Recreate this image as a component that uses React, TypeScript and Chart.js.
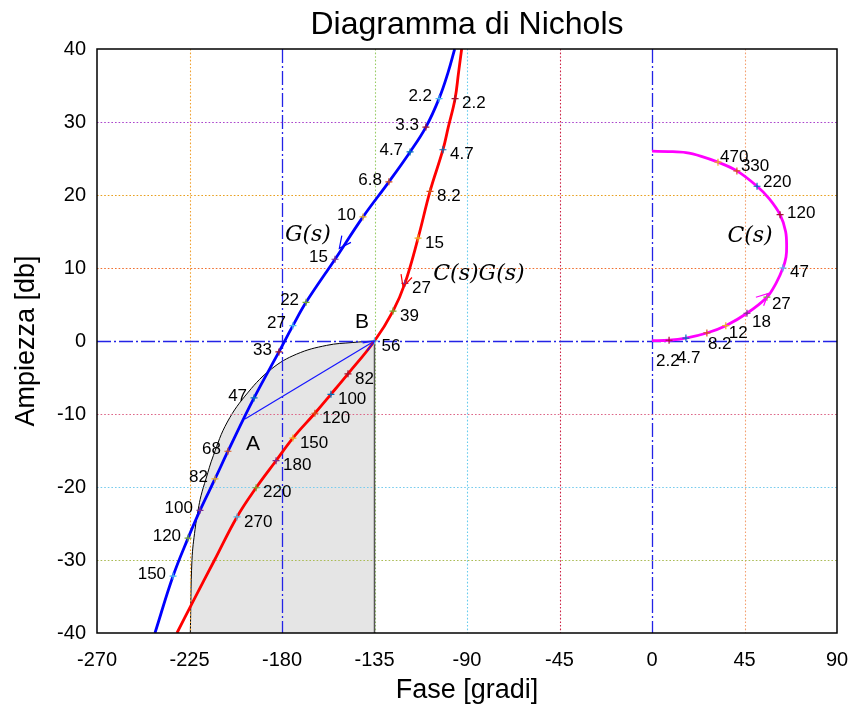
import React, { useEffect, useRef } from "react";
import { Chart, registerables } from "chart.js";

Chart.register(...registerables);

// ---------- axes ----------
const phaseTicks = [-270, -225, -180, -135, -90, -45, 0, 45, 90];
const dbTicks = [-40, -30, -20, -10, 0, 10, 20, 30, 40];

// ---------- G(s) (blue) ----------
const gPhase = [-96, -99.2, -103.6, -110, -117.7, -128, -140.6, -154.2, -168.3, -174.7, -181.5, -193.6, -206.3, -212.6, -219.9, -225.7, -233, -241.8];
const gDb = [40, 36.8, 33.2, 29.3, 25.9, 21.8, 17.0, 11.2, 5.3, 2.1, -1.5, -7.8, -15.1, -18.9, -23.2, -27.0, -32.2, -40];
const gMarkLabels = ["2.2", "3.3", "4.7", "6.8", "10", "15", "22", "27", "33", "47", "68", "82", "100", "120", "150"];
const gMarkPhase = [-103.6, -110, -117.7, -128, -140.6, -154.2, -168.3, -174.7, -181.5, -193.6, -206.3, -212.6, -219.9, -225.7, -233];
const gMarkDb = [33.2, 29.3, 25.9, 21.8, 17.0, 11.2, 5.3, 2.1, -1.5, -7.8, -15.1, -18.9, -23.2, -27.0, -32.2];

// ---------- C(s)G(s) (red) ----------
const cgPhase = [-92.6, -94.1, -95.8, -99.1, -101.7, -108, -113.8, -120.2, -126, -135, -147.9, -156.2, -164, -174.7, -182.9, -192.6, -201.9, -212.8, -223.5, -231.1];
const cgDb = [40, 36.8, 33.2, 29.3, 26.2, 20.5, 14.1, 7.9, 4.1, 0, -4.5, -7.3, -9.9, -13.3, -16.4, -20.1, -24.1, -30.0, -35.8, -40];
const cgMarkLabels = ["2.2", "4.7", "8.2", "15", "27", "39", "56", "82", "100", "120", "150", "180", "220", "270"];
const cgMarkPhase = [-95.8, -101.7, -108, -113.8, -120.2, -126, -135, -147.9, -156.2, -164, -174.7, -182.9, -192.6, -201.9];
const cgMarkDb = [33.2, 26.2, 20.5, 14.1, 7.9, 4.1, 0, -4.5, -7.3, -9.9, -13.3, -16.4, -20.1, -24.1];

// ---------- C(s) (magenta) ----------
const cPhase = [0, 8.3, 16.5, 26.7, 35.9, 46.2, 55.9, 60.5, 63.7, 65.2, 65.5, 65, 62.3, 57, 51.1, 41.3, 32.1, 24, 16.5, 8, 0];
const cDb = [0.05, 0.1, 0.4, 1.1, 2.1, 3.8, 6.0, 8.0, 10.0, 11.5, 13.0, 15.0, 17.3, 19.5, 21.2, 23.3, 24.5, 25.3, 25.8, 25.95, 26.0];
const cMarkLabels = ["2.2", "4.7", "8.2", "12", "18", "27", "47", "120", "220", "330", "470"];
const cMarkPhase = [8.3, 16.5, 26.7, 35.9, 46.2, 55.9, 63.7, 62.3, 51.1, 41.3, 32.1];
const cMarkDb = [0.1, 0.4, 1.1, 2.1, 3.8, 6.0, 10.0, 17.3, 21.2, 23.3, 24.5];
const cLabelDx = [-13, -9, 1, 3, 5, 5, 7, 7, 6, 4, 2];
const cLabelDy = [21, 20, 11, 8, 9, 7, 4, -1, -4, -5, -5];

// ---------- boundary region (black curve + grey fill) ----------
const bPhase = [-224.6, -223.8, -222.3, -220.7, -219.4, -217, -213.4, -206.6, -196.4, -185, -172.9, -158.3, -145.5, -135];
const bDb = [-40, -30, -25.8, -23, -21.2, -18.9, -15.7, -11.1, -7.0, -3.8, -1.8, -0.6, -0.2, 0];

// ---------- A -> B segment ----------
const abPhase = [-198, -135];
const abDb = [-10.7, 0];

// ---------- arrows ----------
const arrowSpecs = [
  { color: "#0000ff", tip: [-152.1, 12.7], from: [-140.6, 17.0] },
  { color: "#ff0000", tip: [-121.1, 7.4], from: [-113.8, 14.1] },
  { color: "#ff00ff", tip: [56.6, 6.5], from: [46.2, 3.8] },
  { color: "#1515ff", tip: [-135, 0], from: [-198, -10.7] },
];

// ---------- text annotations ----------
const mathLabels = [
  { text: "G(s)", phase: -167.4, db: 14.5 },
  { text: "C(s)G(s)", phase: -84.2, db: 9.2 },
  { text: "C(s)", phase: 47.7, db: 14.4 },
];
const pointLabels = [
  { text: "A", phase: -194.1, db: -14.1 },
  { text: "B", phase: -141.1, db: 2.6 },
];

// ---------- styles ----------
const SANS = "'Liberation Sans', Arial, sans-serif";
const palette = ["#4DBEEE", "#A2142F", "#0072BD", "#D95319", "#EDB120", "#7E2F8E", "#77AC30"];
const vGridColors = [null, "#f0a030", "blue", "#99cc66", "#66ccee", "#cc2244", "blue", "#f4a070", null];
const hGridColors = [null, "#aabb55", "#77ccee", "#dd6688", "blue", "#f07030", "#e8a020", "#aa44cc", null];

const pts = (xs: number[], ys: number[]) => xs.map((x, i) => ({ x, y: ys[i] }));
const cyc = (n: number, start: number) => Array.from({ length: n }, (_, i) => palette[(start + i) % palette.length]);

function drawLineStyled(ctx: CanvasRenderingContext2D, x1: number, y1: number, x2: number, y2: number, color: string) {
  ctx.beginPath();
  if (color === "blue") {
    ctx.strokeStyle = "#2323e6";
    ctx.lineWidth = 1.3;
    ctx.setLineDash([14, 3, 2, 3]);
  } else {
    ctx.strokeStyle = color;
    ctx.lineWidth = 1.1;
    ctx.setLineDash([1.6, 2]);
  }
  ctx.moveTo(x1, y1);
  ctx.lineTo(x2, y2);
  ctx.stroke();
  ctx.setLineDash([]);
}

const overlay = {
  id: "overlay",
  afterDatasetDraw(chart: any, args: any) {
    if (args.index !== 0) return;
    const { ctx, chartArea, scales } = chart;
    const { left, right, top, bottom } = chartArea;
    ctx.save();
    phaseTicks.forEach((v, i) => {
      const c = vGridColors[i];
      if (!c) return;
      const px = Math.round(scales.x.getPixelForValue(v)) + 0.5;
      drawLineStyled(ctx, px, top, px, bottom, c);
    });
    dbTicks.forEach((v, i) => {
      const c = hGridColors[i];
      if (!c) return;
      const py = Math.round(scales.y.getPixelForValue(v)) + 0.5;
      drawLineStyled(ctx, left, py, right, py, c);
    });
    ctx.restore();
  },
  afterDatasetsDraw(chart: any) {
    const { ctx, chartArea, scales } = chart;
    const { left, right, top, bottom } = chartArea;
    const X = (v: number) => scales.x.getPixelForValue(v);
    const Y = (v: number) => scales.y.getPixelForValue(v);
    ctx.save();

    arrowSpecs.forEach((a, k) => {
      const tx = X(a.tip[0]), ty = Y(a.tip[1]);
      const fx = X(a.from[0]), fy = Y(a.from[1]);
      const ang = Math.atan2(fy - ty, fx - tx);
      const len = k === 3 ? 12 : 13;
      const spread = (k === 3 ? 22 : 26) * Math.PI / 180;
      ctx.strokeStyle = a.color;
      ctx.lineWidth = 1.2;
      ctx.beginPath();
      ctx.moveTo(tx + len * Math.cos(ang + spread), ty + len * Math.sin(ang + spread));
      ctx.lineTo(tx, ty);
      ctx.lineTo(tx + len * Math.cos(ang - spread), ty + len * Math.sin(ang - spread));
      ctx.stroke();
    });

    ctx.fillStyle = "#000";
    ctx.font = `17px ${SANS}`;
    ctx.textBaseline = "middle";
    ctx.textAlign = "right";
    gMarkLabels.forEach((t, i) => ctx.fillText(t, X(gMarkPhase[i]) - 7, Y(gMarkDb[i]) - 2));
    ctx.textAlign = "left";
    cgMarkLabels.forEach((t, i) => ctx.fillText(t, X(cgMarkPhase[i]) + 7, Y(cgMarkDb[i]) + 5));
    cMarkLabels.forEach((t, i) => ctx.fillText(t, X(cMarkPhase[i]) + cLabelDx[i], Y(cMarkDb[i]) + cLabelDy[i]));

    ctx.textAlign = "center";
    ctx.font = `21px ${SANS}`;
    pointLabels.forEach((p) => ctx.fillText(p.text, X(p.phase), Y(p.db)));

    ctx.font = `italic 22px 'DejaVu Serif', 'Liberation Serif', serif`;
    mathLabels.forEach((p) => ctx.fillText(p.text, X(p.phase), Y(p.db)));

    ctx.strokeStyle = "#000";
    ctx.lineWidth = 1.5;
    ctx.strokeRect(left, top, right - left, bottom - top);
    ctx.restore();
  },
};

export default function App() {
  const ref = useRef<HTMLCanvasElement | null>(null);
  useEffect(() => {
    if (!ref.current) return;
    const chart = new Chart(ref.current, {
      type: "scatter",
      data: {
        datasets: [
          {
            data: pts(bPhase, bDb),
            showLine: true,
            borderColor: "#000",
            borderWidth: 1,
            backgroundColor: "#e5e5e5",
            fill: { value: -40 },
            pointRadius: 0,
            tension: 0.4,
            order: 10,
          },
          {
            data: pts([-135, -135], [0, -40]),
            showLine: true,
            borderColor: "#555",
            borderWidth: 1.5,
            pointRadius: 0,
            order: 9,
          },
          {
            data: pts(abPhase, abDb),
            showLine: true,
            borderColor: "#1515ff",
            borderWidth: 1.2,
            pointRadius: 0,
            order: 8,
          },
          {
            data: pts(gPhase, gDb),
            showLine: true,
            borderColor: "#0000ff",
            borderWidth: 2.8,
            pointRadius: 0,
            tension: 0.4,
            order: 5,
          },
          {
            data: pts(cgPhase, cgDb),
            showLine: true,
            borderColor: "#ff0000",
            borderWidth: 2.8,
            pointRadius: 0,
            tension: 0.4,
            order: 5,
          },
          {
            data: pts(cPhase, cDb),
            showLine: true,
            borderColor: "#ff00ff",
            borderWidth: 2.8,
            pointRadius: 0,
            tension: 0.35,
            order: 5,
          },
          {
            data: pts(gMarkPhase, gMarkDb),
            showLine: false,
            pointStyle: "cross",
            pointRadius: 3.5,
            pointBorderWidth: 1.2,
            pointBorderColor: cyc(gMarkLabels.length, 0),
            order: 1,
          },
          {
            data: pts(cgMarkPhase, cgMarkDb),
            showLine: false,
            pointStyle: "cross",
            pointRadius: 3.5,
            pointBorderWidth: 1.2,
            pointBorderColor: cyc(cgMarkLabels.length, 1),
            order: 1,
          },
          {
            data: pts(cMarkPhase, cMarkDb),
            showLine: false,
            pointStyle: "cross",
            pointRadius: 3.5,
            pointBorderWidth: 1.2,
            pointBorderColor: cyc(cMarkLabels.length, 1),
            order: 1,
          },
        ],
      } as any,
      options: {
        responsive: false,
        animation: false,
        events: [],
        layout: { padding: { left: 0, right: 16, top: 0, bottom: 0 } },
        plugins: {
          legend: { display: false },
          tooltip: { enabled: false },
          title: {
            display: true,
            text: "Diagramma di Nichols",
            fullSize: false,
            color: "#000",
            font: { family: SANS, size: 32, weight: "normal", lineHeight: 1.2 },
            padding: { top: 6, bottom: 4.6 },
          },
        },
        scales: {
          x: {
            type: "linear",
            min: -270,
            max: 90,
            afterBuildTicks: (s: any) => {
              s.ticks = phaseTicks.map((v) => ({ value: v }));
            },
            afterFit: (s: any) => {
              s.height = 79;
              s.paddingLeft = 0;
              s.paddingRight = 0;
            },
            grid: { display: false, drawTicks: false },
            border: { display: false },
            ticks: { color: "#000", font: { family: SANS, size: 20 }, padding: 15, maxRotation: 0, autoSkip: false },
            title: {
              display: true,
              text: "Fase [gradi]",
              color: "#000",
              font: { family: SANS, size: 27, lineHeight: 1.2 },
              padding: { top: 0, bottom: 5 },
            },
          },
          y: {
            type: "linear",
            min: -40,
            max: 40,
            afterBuildTicks: (s: any) => {
              s.ticks = dbTicks.map((v) => ({ value: v }));
            },
            afterFit: (s: any) => {
              s.width = 97;
              s.paddingTop = 0;
              s.paddingBottom = 0;
            },
            grid: { display: false, drawTicks: false },
            border: { display: false },
            ticks: { color: "#000", font: { family: SANS, size: 20 }, padding: 11, autoSkip: false },
            title: {
              display: true,
              text: "Ampiezza [db]",
              color: "#000",
              font: { family: SANS, size: 27, lineHeight: 1.2 },
              padding: { top: 10, bottom: 0 },
            },
          },
        },
      } as any,
      plugins: [overlay],
    });
    return () => chart.destroy();
  }, []);
  return (
    <div style={{ position: "absolute", left: 0, top: 0, width: 853, height: 712 }}>
      <canvas ref={ref} width={853} height={712} style={{ display: "block" }} />
    </div>
  );
}
